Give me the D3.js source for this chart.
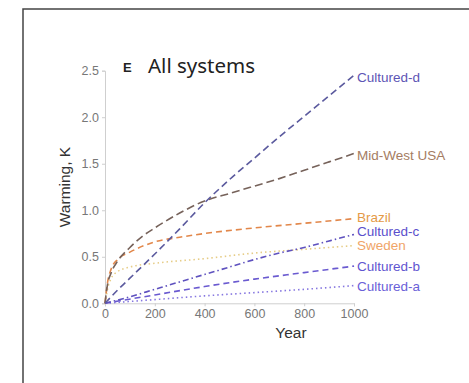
<!DOCTYPE html>
<html>
<head>
<meta charset="utf-8">
<script src="https://cdn.jsdelivr.net/npm/d3@7"></script>
<style>
  body { margin: 0; background: #fff; }
  svg { display: block; }
</style>
</head>
<body>
<div id="chart"></div>
<script>
// warming over time, all systems (panel E)
const yTicks = [0, 0.5, 1.0, 1.5, 2.0, 2.5];
const xTicks = [0, 200, 400, 600, 800, 1000];

const culturedD = [[0, 0], [50, 0.14], [100, 0.27], [200, 0.53], [300, 0.8], [400, 1.08], [500, 1.33], [600, 1.56], [700, 1.79], [800, 2.01], [900, 2.23], [1000, 2.45]];
const midWest = [[0, 0], [10, 0.2], [25, 0.33], [50, 0.45], [100, 0.6], [150, 0.72], [200, 0.81], [300, 0.97], [400, 1.1], [500, 1.18], [600, 1.26], [700, 1.34], [800, 1.43], [900, 1.52], [1000, 1.61]];
const brazil = [[0, 0], [10, 0.22], [25, 0.37], [50, 0.47], [100, 0.55], [200, 0.66], [300, 0.71], [400, 0.75], [600, 0.81], [800, 0.86], [1000, 0.91]];
const sweden = [[0, 0], [10, 0.15], [25, 0.27], [50, 0.34], [100, 0.39], [200, 0.43], [400, 0.48], [600, 0.54], [800, 0.58], [1000, 0.62]];
const culturedC = [[0, 0], [100, 0.07], [200, 0.15], [300, 0.23], [400, 0.31], [500, 0.39], [600, 0.47], [700, 0.54], [800, 0.6], [900, 0.67], [1000, 0.74]];
const culturedB = [[0, 0], [200, 0.09], [400, 0.18], [600, 0.26], [800, 0.33], [1000, 0.4]];
const culturedA = [[0, 0], [200, 0.04], [400, 0.08], [600, 0.115], [800, 0.15], [1000, 0.19]];

const series = [
  { name: "Cultured-d", data: culturedD, stroke: "#5b5a9e", dash: "7,4", label: "#5d55b5", ly: 77 },
  { name: "Mid-West USA", data: midWest, stroke: "#76625a", dash: "8,4", label: "#a57c62", ly: 155 },
  { name: "Brazil", data: brazil, stroke: "#e2874a", dash: "6,4", label: "#e49a48", ly: 217 },
  { name: "Sweden", data: sweden, stroke: "#e6cc86", dash: "1.5,3", label: "#f0a468", ly: 245.5 },
  { name: "Cultured-c", data: culturedC, stroke: "#5f52bf", dash: "6,3,1.5,3", label: "#5a4fcc", ly: 231.5 },
  { name: "Cultured-b", data: culturedB, stroke: "#6a5ad0", dash: "6,4", label: "#5f55d0", ly: 266 },
  { name: "Cultured-a", data: culturedA, stroke: "#8677e0", dash: "1.5,3", label: "#6a60d8", ly: 286 },
];

const width = 469, height = 383;
const svg = d3.select("#chart").append("svg").attr("width", width).attr("height", height);

// frame
svg.append("path")
  .attr("d", "M23,383 L23,9 L469,9")
  .attr("fill", "none").attr("stroke", "#444").attr("stroke-width", 1.5);

const x = d3.scaleLinear().domain([0, 1000]).range([105, 354]);
const y = d3.scaleLinear().domain([0, 2.5]).range([303.3, 70.7]);

const yAxis = svg.append("g").attr("transform", "translate(105,0)")
  .call(d3.axisLeft(y).tickValues(yTicks).tickFormat(d3.format(".1f")).tickSize(3).tickPadding(3));
const xAxis = svg.append("g").attr("transform", "translate(0,303.3)")
  .call(d3.axisBottom(x).tickValues(xTicks).tickFormat(d3.format("d")).tickSize(3).tickPadding(3));

[xAxis, yAxis].forEach(g => {
  g.selectAll("path, line").attr("stroke", "#cfcfcf");
  g.selectAll("text").attr("fill", "#777").style("font-family", "Liberation Sans, Arial, sans-serif").style("font-size", "12.5px");
});

svg.append("text").attr("x", 291).attr("y", 338).attr("text-anchor", "middle")
  .style("font-family", "Liberation Sans, Arial, sans-serif").style("font-size", "15.5px").attr("fill", "#333")
  .text("Year");
svg.append("text").attr("transform", "translate(70,187) rotate(-90)").attr("text-anchor", "middle")
  .style("font-family", "Liberation Sans, Arial, sans-serif").style("font-size", "15.5px").attr("fill", "#333")
  .text("Warming, K");

svg.append("text").attr("x", 123).attr("y", 72)
  .style("font-family", "Liberation Sans, Arial, sans-serif").style("font-size", "13px").style("font-weight", "bold").attr("fill", "#222")
  .text("E");
svg.append("text").attr("x", 148).attr("y", 73)
  .style("font-family", "Noto Sans, sans-serif").style("font-size", "20.5px").attr("fill", "#222")
  .text("All systems");

const line = d3.line().x(d => x(d[0])).y(d => y(d[1])).curve(d3.curveMonotoneX);

// draw from back to front
const order = ["Sweden", "Cultured-a", "Cultured-b", "Cultured-c", "Brazil", "Mid-West USA", "Cultured-d"];
svg.append("g").selectAll("path")
  .data(order.map(n => series.find(s => s.name === n)))
  .join("path")
  .attr("d", d => line(d.data))
  .attr("fill", "none")
  .attr("stroke", d => d.stroke)
  .attr("stroke-width", 1.6)
  .attr("stroke-dasharray", d => d.dash);

svg.append("g").selectAll("text")
  .data(series)
  .join("text")
  .attr("x", 357)
  .attr("y", d => d.ly)
  .attr("dy", "0.35em")
  .style("font-family", "Liberation Sans, Arial, sans-serif")
  .style("font-size", "13.5px")
  .attr("fill", d => d.label)
  .text(d => d.name);
</script>
</body>
</html>
